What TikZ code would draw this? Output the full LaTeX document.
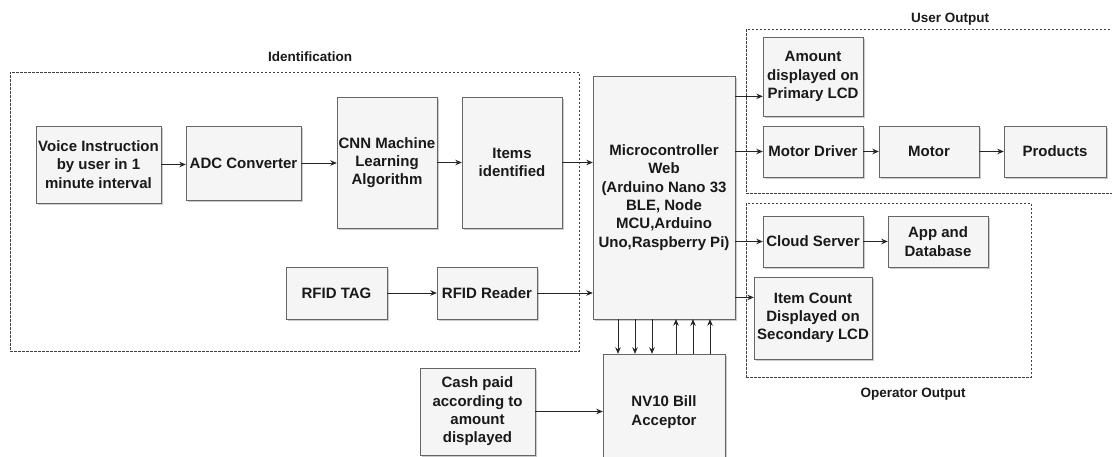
\documentclass[tikz,border=0pt]{standalone}
\usepackage{fontspec}
\setmainfont{Liberation Sans}
\usetikzlibrary{calc,shadows,arrows.meta}

\begin{document}
\begin{tikzpicture}[x=1pt,y=-1pt,>={Stealth[length=6.5pt,width=5.5pt]},
blk/.style={rectangle,draw=black!60,fill=black!4,text=black!90,font=\bfseries\fontsize{15}{18.3}\selectfont,align=center,inner sep=1pt,drop shadow={shadow xshift=2pt,shadow yshift=-2pt,opacity=0.45,fill=black!45}},
grp/.style={rectangle,draw=black!75,line width=0.7pt,dash pattern=on 2.5pt off 1.5pt},
grplab/.style={font=\bfseries\fontsize{13.5}{16}\selectfont,text=black!90,inner sep=0pt},
conn/.style={->,draw=black!85,line width=0.8pt}]
	\clip (0,0) rectangle (1112,456);
	%groups
	\node[grp,minimum width=569pt,minimum height=279pt] at (294.5,211.5) (ident) {};
	\node[grp,minimum width=376pt,minimum height=164pt] at (934,111) (userout) {};
	\node[grp,minimum width=285pt,minimum height=174pt] at (888.5,290) (opout) {};
	\node[grplab] at ([xshift=15.5pt,yshift=15pt]ident.north) (identlab) {Identification};
	\node[grplab] at ([xshift=16pt,yshift=9pt]userout.north) (useroutlab) {User Output};
	\node[grplab] at ([xshift=24.5pt,yshift=-17pt]opout.south) (opoutlab) {Operator Output};
	%identification
	\node[blk,minimum width=125pt,minimum height=77pt] at (98.5,164.5) (voice) {Voice Instruction\\by user in 1\\minute interval};
	\node[blk,minimum width=115pt,minimum height=74pt] at (243.5,163) (adc) {ADC Converter};
	\node[blk,minimum width=100pt,minimum height=131pt] at (387,162.5) (cnn) {CNN Machine\\Learning\\Algorithm};
	\node[blk,minimum width=100pt,minimum height=131pt] at (512,162.5) (items) {Items\\identified};
	\node[blk,minimum width=101pt,minimum height=52pt] at (336.5,293) (tag) {RFID TAG};
	\node[blk,minimum width=100pt,minimum height=52pt] at (487,293) (reader) {RFID Reader};
	%controller
	\node[blk,minimum width=142pt,minimum height=243pt] at (664,197.5) (micro) {Microcontroller\\Web\\(Arduino Nano 33\\BLE, Node\\MCU,Arduino\\Uno,Raspberry Pi)};
	\node[blk,minimum width=122pt,minimum height=116pt] at (664,412) (nv10) {NV10 Bill\\Acceptor};
	\node[blk,minimum width=115pt,minimum height=87pt] at (477.5,411.5) (cash) {Cash paid\\according to\\amount\\displayed};
	%user output
	\node[blk,minimum width=100pt,minimum height=79pt] at (813,76.5) (amount) {Amount\\displayed on\\Primary LCD};
	\node[blk,minimum width=100pt,minimum height=51pt] at (813,151.5) (mdrv) {Motor Driver};
	\node[blk,minimum width=100pt,minimum height=51pt] at (929,151.5) (motor) {Motor};
	\node[blk,minimum width=102pt,minimum height=51pt] at (1055,151.5) (prod) {Products};
	%operator output
	\node[blk,minimum width=100pt,minimum height=51pt] at (813,241.5) (cloud) {Cloud Server};
	\node[blk,minimum width=100pt,minimum height=51pt] at (938,241.5) (app) {App and\\Database};
	\node[blk,minimum width=118pt,minimum height=82pt] at (813,318) (count) {Item Count\\Displayed on\\Secondary LCD};

	\draw[conn] (voice.east) -- (voice.east -| adc.west);
	\draw[conn] (adc.east) -- (adc.east -| cnn.west);
	\draw[conn] (cnn.east) -- (items.west);
	\draw[conn] (items.east) -- (items.east -| micro.west);
	\draw[conn] (tag.east) -- (reader.west);
	\draw[conn] (reader.east) -- (reader.east -| micro.west);
	\draw[conn] (cash.east) -- (cash.east -| nv10.west);
	\coordinate (amt) at ($(amount.north west)!0.75!(amount.south west)$);
	\coordinate (cnt) at ($(count.north west)!0.25!(count.south west)$);
	\draw[conn] (micro.east |- amt) -- (amt);
	\draw[conn] (micro.east |- mdrv.west) -- (mdrv.west);
	\draw[conn] (micro.east |- cloud.west) -- (cloud.west);
	\draw[conn] (micro.east |- cnt) -- (cnt);
	\draw[conn] (mdrv.east) -- (motor.west);
	\draw[conn] (motor.east) -- (prod.west);
	\draw[conn] (cloud.east) -- (app.west);
	%bus to bill acceptor
	\foreach \dx in {-46,-29,-12}
		\draw[conn] ([xshift=\dx pt]micro.south) -- ([xshift=\dx pt]micro.south |- nv10.north);
	\foreach \dx in {12,29,46}
		\draw[conn] ([xshift=\dx pt]micro.south |- nv10.north) -- ([xshift=\dx pt]micro.south);
\end{tikzpicture}
\end{document}
